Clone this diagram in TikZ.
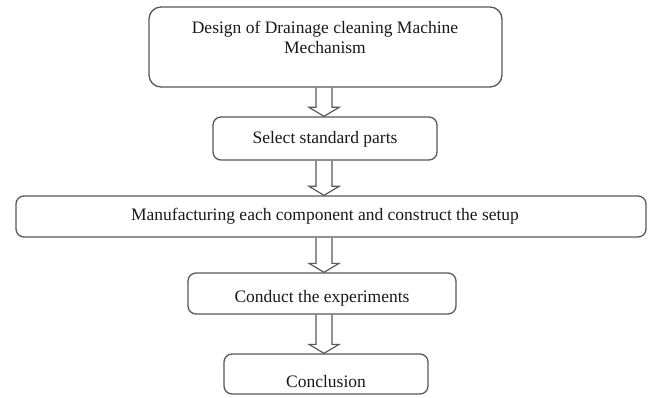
\documentclass[tikz,border=0pt]{standalone}
\usepackage{fontspec}
\setmainfont{Liberation Serif}
\usetikzlibrary{calc}
\newcommand\blockarrow[2]{%
  \draw[barrow] ($(#1.south -| ax)+(-8,0)$) -- ($(#2.north -| ax)+(-8,-9)$)
    -- ($(#2.north -| ax)+(-15,-9)$) -- (#2.north -| ax)
    -- ($(#2.north -| ax)+(15,-9)$) -- ($(#2.north -| ax)+(8,-9)$)
    -- ($(#1.south -| ax)+(8,0)$);}
\begin{document}
\begin{tikzpicture}[x=1pt,y=-1pt,
  box/.style={draw=black!65, line width=1.3pt, rounded corners=8pt, inner sep=0pt},
  txt/.style={font=\fontsize{17.5}{20}\selectfont, inner sep=0pt, align=center, text=black!90},
  barrow/.style={draw=black!65, line width=1.2pt, line join=miter}]
\useasboundingbox[fill=white] (0,0) rectangle (650,398);
\coordinate (ax) at (324,0);
\node[box, rounded corners=12pt, minimum width=353pt, minimum height=80pt] (b1) at (325.5,47) {};
\node[box, minimum width=224pt, minimum height=43pt] (b2) at (325,138.5) {};
\node[box, minimum width=630pt, minimum height=41pt] (b3) at (331,216.5) {};
\node[box, minimum width=268pt, minimum height=41pt] (b4) at (322,293.5) {};
\node[box, minimum width=204pt, minimum height=40pt] (b5) at (326,374) {};
\node[txt] (t1) at (325,37.5) {Design of Drainage cleaning Machine\\Mechanism};
\node[txt] (t2) at (325,139) {Select standard parts};
\node[txt] (t3) at (325,216) {Manufacturing each component and construct the setup};
\node[txt] (t4) at (322,298) {Conduct the experiments};
\node[txt] (t5) at (326,382) {Conclusion};
\blockarrow{b1}{b2}
\blockarrow{b2}{b3}
\blockarrow{b3}{b4}
\blockarrow{b4}{b5}
\end{tikzpicture}
\end{document}
